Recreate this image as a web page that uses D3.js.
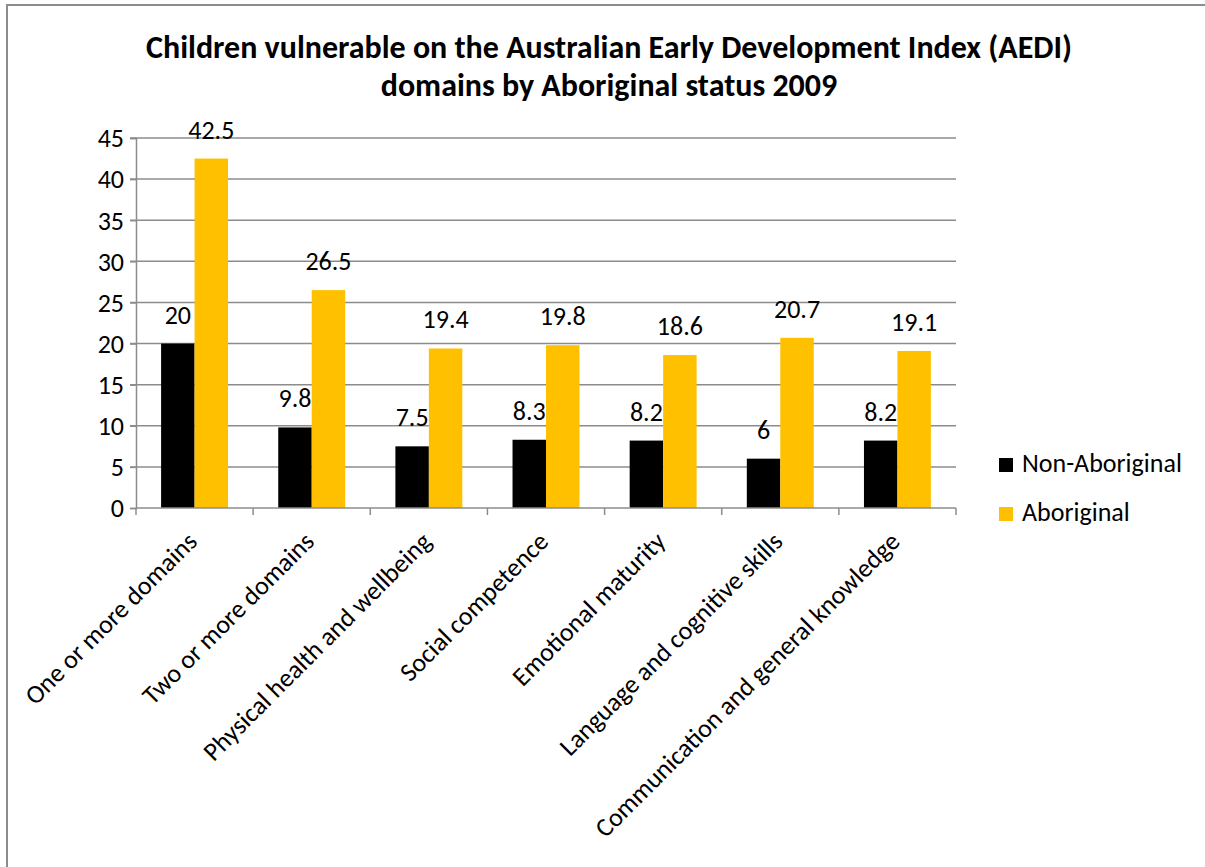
<!DOCTYPE html>
<html>
<head>
<meta charset="utf-8">
<script src="https://cdn.jsdelivr.net/npm/d3@7"></script>
<style>
  body { margin: 0; background: #fff; }
  svg text { font-family: Calibri, Carlito, Lato, "Open Sans", sans-serif; fill: #000; }
</style>
</head>
<body>
<svg id="chart" width="1205" height="867"></svg>
<script>
var categories = [
  "One or more domains",
  "Two or more domains",
  "Physical health and wellbeing",
  "Social competence",
  "Emotional maturity",
  "Language and cognitive skills",
  "Communication and general knowledge"
];
var seriesNames = ["Non-Aboriginal", "Aboriginal"];
var nonAboriginal = [20, 9.8, 7.5, 8.3, 8.2, 6, 8.2];
var aboriginal = [42.5, 26.5, 19.4, 19.8, 18.6, 20.7, 19.1];
var yTicks = [0, 5, 10, 15, 20, 25, 30, 35, 40, 45];
var colors = ["#000000", "#FFC000"];

var plotLeft = 136, plotRight = 956, plotTop = 138, plotBottom = 508;
var fs = "26px";

var svg = d3.select("#chart");

// chart frame
svg.append("rect")
  .attr("x", 7).attr("y", 5)
  .attr("width", 1260).attr("height", 900)
  .attr("fill", "#fff")
  .attr("stroke", "#8c8c8c")
  .attr("stroke-width", 2);

// title
var title = svg.append("text")
  .attr("text-anchor", "middle")
  .style("font-weight", "bold")
  .style("font-size", "32px");
title.append("tspan").attr("x", 609).attr("y", 58)
  .text("Children vulnerable on the Australian Early Development Index (AEDI)");
title.append("tspan").attr("x", 609).attr("y", 96)
  .text("domains by Aboriginal status 2009");

var x0 = d3.scaleBand()
  .domain(categories)
  .range([plotLeft, plotRight]);

// gap width 150% -> each bar is band / 3.5
var barW = x0.bandwidth() / 3.5;
var x1 = d3.scaleBand()
  .domain(seriesNames)
  .range([0, barW * 2]);

var y = d3.scaleLinear()
  .domain([0, 45])
  .range([plotBottom, plotTop]);

// gridlines
svg.append("g")
  .selectAll("line")
  .data(yTicks.slice(1))
  .enter().append("line")
    .attr("x1", plotLeft - 6).attr("x2", plotRight)
    .attr("y1", function(d) { return y(d); })
    .attr("y2", function(d) { return y(d); })
    .attr("stroke", "#8c8c8c")
    .attr("stroke-width", 1.5);

// y axis
var yAxis = svg.append("g")
  .attr("transform", "translate(" + plotLeft + ",0)")
  .call(d3.axisLeft(y).tickValues(yTicks).tickSize(6).tickPadding(6).tickFormat(d3.format("d")));
yAxis.select(".domain").attr("stroke", "#8c8c8c").attr("stroke-width", 1.5);
yAxis.selectAll(".tick line").attr("stroke", "#8c8c8c").attr("stroke-width", 1.5);
yAxis.selectAll("text").style("font-size", fs).attr("dy", "0.34em");

// bars
var data = categories.map(function(c, i) {
  return { cat: c, values: [nonAboriginal[i], aboriginal[i]] };
});
var groups = svg.append("g")
  .selectAll("g")
  .data(data)
  .enter().append("g")
    .attr("transform", function(d) {
      return "translate(" + (x0(d.cat) + (x0.bandwidth() - barW * 2) / 2) + ",0)";
    });

groups.selectAll("rect")
  .data(function(d) { return d.values.map(function(v, j) { return { s: seriesNames[j], v: v, j: j }; }); })
  .enter().append("rect")
    .attr("x", function(d) { return x1(d.s); })
    .attr("y", function(d) { return y(d.v); })
    .attr("width", x1.bandwidth())
    .attr("height", function(d) { return y(0) - y(d.v); })
    .attr("fill", function(d) { return colors[d.j]; });

groups.selectAll("text")
  .data(function(d) { return d.values.map(function(v, j) { return { s: seriesNames[j], v: v }; }); })
  .enter().append("text")
    .attr("x", function(d) { return x1(d.s) + x1.bandwidth() / 2; })
    .attr("y", function(d) { return y(d.v) - 20; })
    .attr("text-anchor", "middle")
    .style("font-size", fs)
    .text(function(d) { return d.v; });

// x axis
var xAxis = svg.append("g")
  .attr("transform", "translate(0," + plotBottom + ")");
xAxis.append("line")
  .attr("x1", plotLeft).attr("x2", plotRight)
  .attr("stroke", "#8c8c8c").attr("stroke-width", 1.5);
xAxis.selectAll(".tk")
  .data(categories.concat([null]))
  .enter().append("line")
    .attr("class", "tk")
    .attr("x1", function(d, i) { return plotLeft + i * x0.step(); })
    .attr("x2", function(d, i) { return plotLeft + i * x0.step(); })
    .attr("y1", 0).attr("y2", 7)
    .attr("stroke", "#8c8c8c").attr("stroke-width", 1.5);
xAxis.selectAll(".lbl")
  .data(categories)
  .enter().append("text")
    .attr("class", "lbl")
    .attr("text-anchor", "end")
    .style("font-size", fs)
    .attr("transform", function(d) {
      return "translate(" + (x0(d) + x0.bandwidth() / 2 + 4) + ",35) rotate(-45)";
    })
    .text(function(d) { return d; });

// legend
var legend = svg.append("g")
  .selectAll("g")
  .data(seriesNames)
  .enter().append("g")
    .attr("transform", function(d, i) { return "translate(999," + (458 + i * 49) + ")"; });
legend.append("rect")
  .attr("width", 14).attr("height", 14)
  .attr("fill", function(d, i) { return colors[i]; });
legend.append("text")
  .attr("x", 23).attr("y", 14)
  .style("font-size", fs)
  .text(function(d) { return d; });
</script>
</body>
</html>
